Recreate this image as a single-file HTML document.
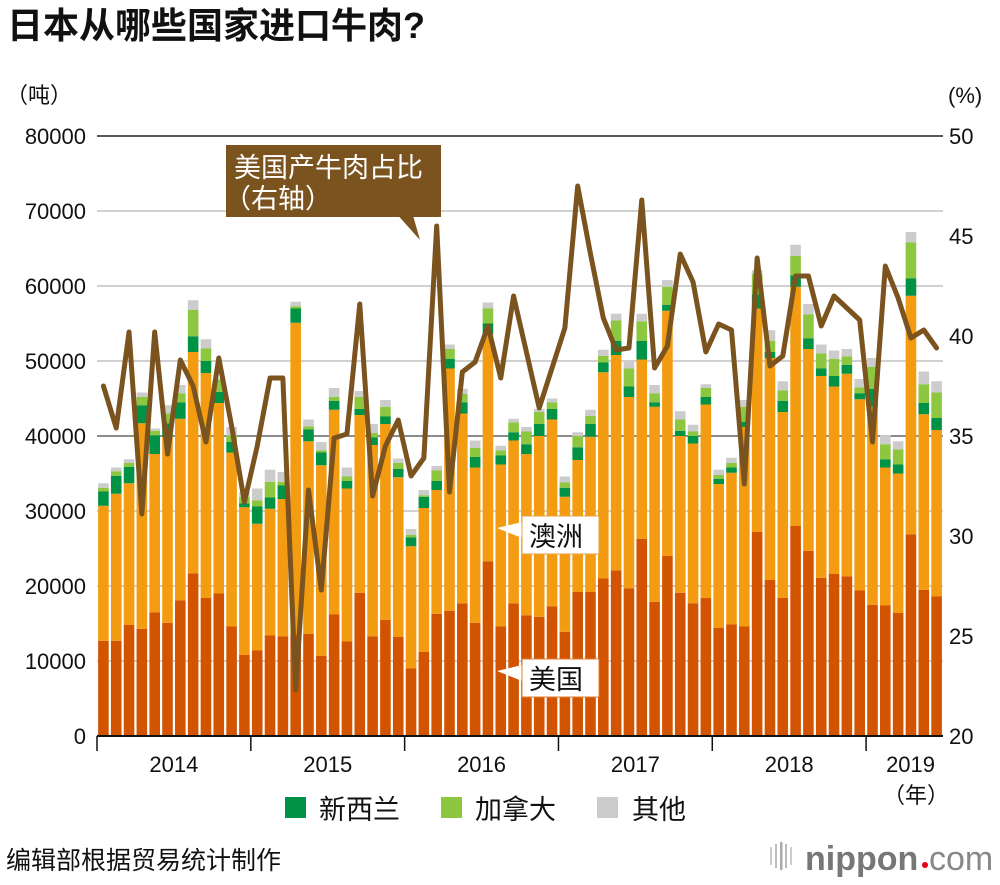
<!DOCTYPE html>
<html><head><meta charset="utf-8"><style>
body{margin:0;background:#fff;width:1000px;height:880px;overflow:hidden;font-family:"Liberation Sans","Noto Sans CJK SC",sans-serif;}
svg text{font-family:"Liberation Sans","Noto Sans CJK SC",sans-serif;}
</style></head><body>
<svg id="chart" width="1000" height="880" viewBox="0 0 1000 880" xmlns="http://www.w3.org/2000/svg">
<text x="7" y="38" font-size="36" font-weight="bold" fill="#111">日本从哪些国家进口牛肉?</text>
<text x="6" y="103" font-size="22" fill="#111">（吨）</text>
<text x="948" y="103" font-size="22" fill="#111">(%)</text>
<g id="grid"></g><g id="bars"></g><g id="line"></g><g id="axes"></g>
<g>
<polygon points="395,212 420,240 412,212" fill="#7a531f"/>
<rect x="226" y="145" width="215" height="72" fill="#7a531f"/>
<text x="234" y="177" font-size="27" fill="#fff">美国产牛肉占比</text>
<text x="224" y="208" font-size="27" fill="#fff">（右轴）</text>
</g>
<g>
<polygon points="497,528 522,522 522,538" fill="#fff"/>
<rect x="522" y="516" width="77" height="38" fill="#fff" stroke="#e9a040" stroke-width="1"/>
<text x="529" y="546" font-size="27" fill="#111">澳洲</text>
</g>
<g>
<polygon points="497,671 522,665 522,681" fill="#fff"/>
<rect x="522" y="659" width="77" height="38" fill="#fff" stroke="#e08030" stroke-width="1"/>
<text x="529" y="689" font-size="27" fill="#111">美国</text>
</g>
<g>
<rect x="285" y="797" width="21" height="21" fill="#009245"/>
<text x="319" y="819" font-size="27" fill="#111">新西兰</text>
<rect x="441" y="797" width="21" height="21" fill="#8dc63f"/>
<text x="475" y="819" font-size="27" fill="#111">加拿大</text>
<rect x="597" y="797" width="21" height="21" fill="#cccccc"/>
<text x="632" y="819" font-size="27" fill="#111">其他</text>
</g>
<text x="6" y="869" font-size="25" fill="#111">编辑部根据贸易统计制作</text>
<g>
<rect x="770" y="847" width="2" height="18" fill="#ccc"/><rect x="775" y="844" width="2" height="24" fill="#bbb"/><rect x="780" y="842" width="2.5" height="28" fill="#aaa"/><rect x="785" y="844" width="2" height="24" fill="#bbb"/><rect x="790" y="847" width="2" height="18" fill="#ccc"/>
<text x="805" y="870" font-size="34" font-weight="bold" fill="#777">nippon</text>
<circle cx="925" cy="865" r="3" fill="#e60012"/>
<text x="929" y="870" font-size="34" fill="#888">com</text>
</g>
</svg>
<script>
const months = 66;
const usValues = [12.7,12.7,14.8,14.3,16.5,15.1,18.1,21.7,18.4,19.0,14.6,10.8, 11.4,13.4,13.3,13.5,13.6,10.7,16.2,12.6,19.1,13.3,15.5,13.2, 9.0,11.2,16.3,16.7,17.7,15.1,23.3,14.6,17.7,16.1,15.9,17.3, 13.9,19.2,19.2,21.0,22.1,19.7,26.3,17.9,24.0,19.1,17.7,18.4, 14.4,14.9,14.6,27.2,20.8,18.4,28.0,24.7,21.1,21.6,21.3,19.4, 17.5,17.4,16.4,26.9,19.5,18.6];
const ausCum = [30.7,32.3,33.7,41.7,37.6,39.9,42.3,51.2,48.4,44.4,37.8,30.5, 28.3,30.3,31.6,55.1,39.3,36.1,43.5,33.0,42.8,38.8,41.6,34.5, 25.3,30.4,32.8,49.0,43.0,35.8,53.6,36.2,39.4,37.6,40.0,42.2, 31.9,36.8,39.9,48.5,50.8,45.2,50.2,43.9,56.7,40.0,39.0,44.2, 33.6,35.1,41.2,57.0,50.4,43.2,59.9,51.6,48.0,46.6,48.3,44.9, 43.9,35.8,35.0,58.7,42.9,40.8];
const nzCum = [32.6,34.7,35.9,44.1,40.1,41.7,44.5,53.3,50.0,45.9,39.2,31.0, 30.6,31.8,33.4,57.0,40.9,37.8,44.7,34.0,43.6,39.8,42.6,35.6, 26.5,31.9,34.0,50.3,44.5,37.2,55.0,37.4,40.5,38.9,41.6,43.6, 33.1,38.5,41.6,49.8,52.7,46.6,52.7,44.5,57.5,40.7,40.0,45.2, 34.3,35.8,41.9,58.9,51.2,44.7,61.4,53.0,49.0,48.0,49.5,45.7, 46.3,36.9,36.2,61.0,44.4,42.4];
const canCum = [33.1,35.3,36.4,45.2,40.7,43.0,45.7,56.8,51.7,47.5,40.1,31.9, 31.4,33.9,33.9,57.3,41.3,38.1,45.2,34.6,45.2,40.4,43.9,36.4, 26.8,32.1,35.4,51.6,45.6,38.4,57.0,38.1,41.8,40.6,43.2,44.5, 33.8,40.0,42.7,50.7,55.4,49.0,55.3,45.7,59.9,42.2,40.6,46.4, 34.8,36.4,43.9,61.6,52.7,46.1,64.0,56.2,51.0,50.3,50.6,46.5, 49.2,38.9,38.2,65.8,46.9,45.8];
const totalValues = [33.7,35.8,36.9,45.8,41.0,44.1,46.8,58.1,52.9,47.7,41.2,32.5, 33.0,35.5,35.2,57.9,42.2,39.2,46.4,35.8,46.0,41.6,44.8,37.0, 27.6,32.8,36.0,52.2,46.3,39.4,57.8,38.7,42.3,41.2,43.6,45.0, 34.6,40.5,43.5,51.5,56.3,50.0,56.3,46.8,60.8,43.3,41.5,46.9, 35.5,37.1,44.8,62.1,54.1,47.3,65.5,57.6,52.2,51.4,51.6,47.6, 50.4,40.1,39.3,67.2,48.6,47.3];
const usShare = [37.5,35.4,40.2,31.1,40.2,34.1,38.8,37.5,34.7,38.9,35.5,31.7, 34.5,37.9,37.9,22.3,32.3,27.3,34.9,35.1,41.6,32.0,34.5,35.8, 33.0,33.9,45.5,32.2,38.2,38.7,40.5,37.9,42.0,39.2,36.4,38.4, 40.4,47.5,44.1,40.9,39.3,39.4,46.8,38.4,39.5,44.1,42.7,39.2, 40.6,40.3,32.6,43.9,38.5,39.0,43.0,43.0,40.5,42.0,41.4,40.8, 34.7,43.5,41.9,39.9,40.3,39.4];
const leftTicks = [0,10000,20000,30000,40000,50000,60000,70000,80000];
const rightTicks = [20,25,30,35,40,45,50];
const yearLabels = ["2014","2015","2016","2017","2018","2019"];

const NS="http://www.w3.org/2000/svg";
const X0=97, X1=943, Y0=736, Y1=136;
const step=(X1-X0)/months;
function xAt(i){return X0+step*(i+0.5);}
function yL(v){return Y0-(v/80000)*(Y0-Y1);}
function yK(k){return yL(k*1000);}
function yR(p){return Y0-((p-20)/30)*(Y0-Y1);}
function mk(tag,parent,attrs){const e=document.createElementNS(NS,tag);for(const k in attrs)e.setAttribute(k,attrs[k]);parent.appendChild(e);return e;}

const grid=document.getElementById('grid');
leftTicks.forEach((t,i)=>{
  const y=yL(t);
  if(t>0){
    const ln=mk('line',grid,{x1:X0,x2:X1,y1:y,y2:y,stroke:(t===80000?'#222':(t===40000?'#666':'#d0d0d0')),'stroke-width':(t===80000||t===40000)?1.5:2});
    
    
  }
  const tx=mk('text',grid,{x:86,y:y+8,'font-size':22,'text-anchor':'end',fill:'#111'});
  tx.textContent=t;
  
  
});
rightTicks.forEach(p=>{
  const tx=mk('text',grid,{x:949,y:yR(p)+8,'font-size':22,fill:'#111'});
  tx.textContent=p;
  
  
});

const bars=document.getElementById('bars');
const bw=10.6;
for(let i=0;i<months;i++){
  const x=xAt(i)-bw/2;
  const segs=[[0,usValues[i],'#d35400','us'],[usValues[i],ausCum[i],'#f39c12','australia'],[ausCum[i],nzCum[i],'#009245','new-zealand'],[nzCum[i],canCum[i],'#8dc63f','canada'],[canCum[i],totalValues[i],'#cccccc','other']];
  segs.forEach(s=>{
    const r=mk('rect',bars,{x:x,y:yK(s[1]),width:bw,height:Math.max(0,yK(s[0])-yK(s[1])),fill:s[2]});
    
    
  });
}

const lineG=document.getElementById('line');
const pts=usShare.map((p,i)=>xAt(i)+','+yR(p)).join(' ');
const pl=mk('polyline',lineG,{points:pts,fill:'none',stroke:'#7a531f','stroke-width':5,'stroke-linejoin':'round','stroke-linecap':'round'});



const axes=document.getElementById('axes');
const ax=mk('line',axes,{x1:X0,x2:X1,y1:Y0,y2:Y0,stroke:'#111','stroke-width':2});


yearLabels.forEach((yl,j)=>{
  const xs=X0+step*12*j;
  const tk=mk('line',axes,{x1:xs,x2:xs,y1:Y0,y2:Y0+15,stroke:'#111','stroke-width':1.5});
  
  
  const n=Math.min(12,months-12*j);
  const tx=mk('text',axes,{x:xs+step*n/2+(j===5?6:0),y:772,'font-size':22,'text-anchor':'middle',fill:'#111'});
  tx.textContent=yl;
  
  
});
const nian=mk('text',axes,{x:916,y:803,'font-size':22,'text-anchor':'middle',fill:'#111'});
nian.textContent='（年）';


</script>
</body></html>
